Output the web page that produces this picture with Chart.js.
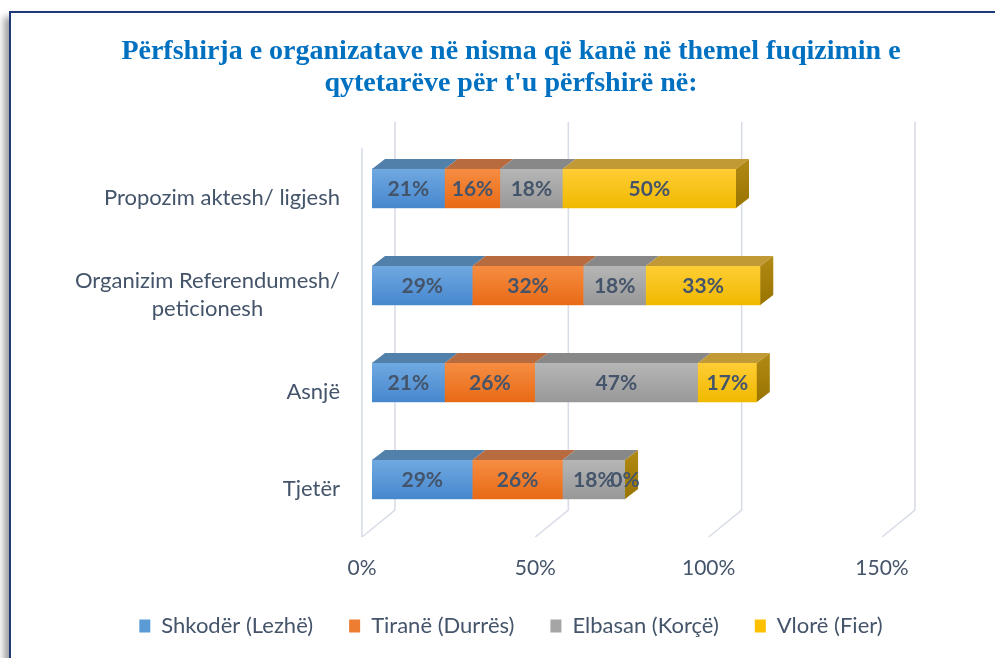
<!DOCTYPE html>
<html><head><meta charset="utf-8">
<script src="https://cdn.jsdelivr.net/npm/chart.js@4/dist/chart.umd.min.js"></script>
<style>
html,body{margin:0;padding:0;background:#fff;overflow:hidden;width:995px;height:658px;}
#frame{position:absolute;left:9px;top:11px;width:1100px;height:720px;border:2px solid #1F3A78;box-shadow:-5px 6px 7px rgba(0,0,0,0.38);background:#fff;}
#wrap{position:absolute;left:10px;top:12px;width:1002px;height:635px;}
</style></head><body>
<div id="frame"></div>
<div id="wrap"><canvas id="c"></canvas></div>
<script>
const categories = [["Propozim aktesh/ ligjesh"], ["Organizim Referendumesh/", "peticionesh"], ["Asnjë"], ["Tjetër"]];
const seriesNames = ["Shkodër (Lezhë)", "Tiranë (Durrës)", "Elbasan (Korçë)", "Vlorë (Fier)"];
const shkoder = [21, 29, 21, 29];
const tirane = [16, 32, 26, 26];
const elbasan = [18, 18, 47, 18];
const vlore = [50, 33, 17, 0];
const xTicks = [0, 50, 100, 150];
const titleLines = ["Përfshirja e organizatave në nisma që kanë në themel fuqizimin e", "qytetarëve për t'u përfshirë në:"];

const seriesValues = [shkoder, tirane, elbasan, vlore];
const flatColors = ['#5B9BD5', '#ED7D31', '#A5A5A5', '#FFC000'];
const frontTop = ['#70A9E1', '#F68D42', '#B6B6B6', '#FFCD35'];
const frontBot = ['#4687CE', '#E86A16', '#989898', '#F0B900'];
const topColors = ['#5180AB', '#B96B40', '#888888', '#C29A35'];
const sideTop = '#B08A14', sideBot = '#9A7400';
const TXT = '#44546A';
const FONT = 'Lato';
const DX = 13, DY = 10;

const threeD = {
  id: 'threeD',
  beforeDatasetsDraw(chart) {
    const {ctx, chartArea: a, scales: {x}} = chart;
    ctx.save();
    ctx.strokeStyle = '#D9DDE8';
    ctx.lineWidth = 1.6;
    const backTop = a.top - 18, backBot = a.bottom - 18, floor = a.bottom + 9;
    const p0 = x.getPixelForValue(xTicks[0]);
    ctx.beginPath();
    ctx.moveTo(p0 - 10, backTop + 26);
    ctx.lineTo(p0 - 10, floor);
    ctx.stroke();
    xTicks.forEach(v => {
      const px = x.getPixelForValue(v);
      ctx.beginPath();
      ctx.moveTo(px + 23, backTop);
      ctx.lineTo(px + 23, backBot);
      ctx.lineTo(px - 10, floor);
      ctx.stroke();
    });
    ctx.restore();
  },
  afterDatasetsDraw(chart) {
    const ctx = chart.ctx;
    const metas = chart.data.datasets.map((d, i) => chart.getDatasetMeta(i));
    ctx.save();
    metas.forEach((m, di) => {
      m.data.forEach(el => {
        const {x, y, base, height} = el.getProps(['x', 'y', 'base', 'height'], true);
        const l = Math.min(base, x), w = Math.abs(x - base);
        if (w <= 0.01) return;
        const t = y - height / 2;
        const g = ctx.createLinearGradient(0, t, 0, t + height);
        g.addColorStop(0, frontTop[di]);
        g.addColorStop(1, frontBot[di]);
        ctx.fillStyle = g;
        ctx.fillRect(l, t, w, height);
        ctx.fillStyle = topColors[di];
        ctx.beginPath();
        ctx.moveTo(l, t);
        ctx.lineTo(l + w, t);
        ctx.lineTo(l + w + DX, t - DY);
        ctx.lineTo(l + DX, t - DY);
        ctx.closePath();
        ctx.fill();
      });
    });
    const last = metas[metas.length - 1];
    last.data.forEach(el => {
      const {x, y, height} = el.getProps(['x', 'y', 'height'], true);
      const t = y - height / 2, b = y + height / 2;
      const g = ctx.createLinearGradient(0, t - DY, 0, b);
      g.addColorStop(0, sideTop);
      g.addColorStop(1, sideBot);
      ctx.fillStyle = g;
      ctx.beginPath();
      ctx.moveTo(x, t);
      ctx.lineTo(x + DX, t - DY);
      ctx.lineTo(x + DX, b - DY);
      ctx.lineTo(x, b);
      ctx.closePath();
      ctx.fill();
    });
    ctx.fillStyle = TXT;
    ctx.font = 'bold 21px ' + FONT;
    ctx.textAlign = 'center';
    ctx.textBaseline = 'middle';
    metas.forEach((m, di) => {
      m.data.forEach((el, i) => {
        const {x, y, base} = el.getProps(['x', 'y', 'base'], true);
        ctx.fillText(seriesValues[di][i] + '%', (x + base) / 2, y + 1);
      });
    });
    ctx.restore();
  },
  afterDraw(chart) {
    const {ctx, chartArea: a, scales: {y}} = chart;
    ctx.save();
    ctx.fillStyle = TXT;
    ctx.font = '22px ' + FONT;
    ctx.textBaseline = 'middle';
    ctx.textAlign = 'center';
    const right = a.left - 32;
    categories.forEach((lines, i) => {
      const cy = y.getPixelForValue(i) + 9;
      const widest = Math.max(...lines.map(s => ctx.measureText(s).width));
      const cx = right - widest / 2;
      const lh = 28;
      lines.forEach((s, k) => {
        ctx.fillText(s, cx, cy + (k - (lines.length - 1) / 2) * lh);
      });
    });
    ctx.restore();
  }
};

new Chart(document.getElementById('c'), {
  type: 'bar',
  data: {
    labels: categories.map(c => c.join(' ')),
    datasets: seriesNames.map((n, i) => ({
      label: n,
      data: seriesValues[i],
      backgroundColor: flatColors[i],
      borderWidth: 0,
      barThickness: 39
    }))
  },
  options: {
    indexAxis: 'y',
    responsive: true,
    maintainAspectRatio: false,
    animation: false,
    layout: {padding: 0},
    plugins: {
      tooltip: {enabled: false},
      title: {
        display: true,
        text: titleLines,
        color: '#0070C0',
        font: {family: 'Liberation Serif', weight: 'bold', size: 28, lineHeight: '32px'},
        padding: {top: 24, bottom: 40}
      },
      legend: {
        position: 'bottom',
        labels: {
          boxWidth: 11, boxHeight: 13, padding: 36,
          color: TXT,
          font: {family: FONT, size: 22}
        }
      }
    },
    scales: {
      x: {
        type: 'linear',
        stacked: true,
        min: 0, max: 150,
        afterBuildTicks(s) { s.ticks = xTicks.map(v => ({value: v})); },
        afterFit(s) { s.height = 51; },
        grid: {display: false, drawTicks: false},
        border: {display: false},
        ticks: {
          padding: 28,
          labelOffset: -10,
          color: TXT,
          font: {family: FONT, size: 21},
          callback: v => v + '%'
        }
      },
      y: {
        stacked: true,
        grid: {display: false},
        border: {display: false},
        ticks: {display: false},
        afterFit(s) { s.width = 362; }
      },
      y2: {
        type: 'linear',
        position: 'right',
        min: 0, max: 1,
        grid: {display: false},
        border: {display: false},
        ticks: {display: false},
        afterFit(s) { s.width = 120; }
      }
    }
  },
  plugins: [threeD]
});
</script>
</body></html>
